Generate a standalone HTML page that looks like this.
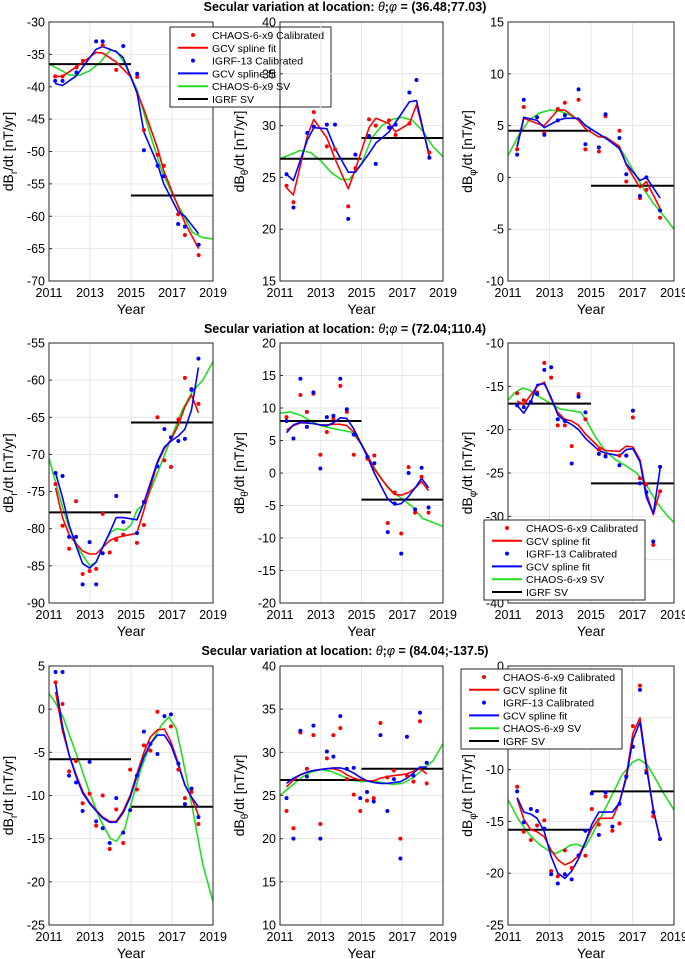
<!DOCTYPE html>
<html><head><meta charset="utf-8"><style>
html,body{margin:0;padding:0;background:#fff;}
svg{display:block;font-family:"Liberation Sans",Arial,sans-serif;}
</style></head><body>
<svg id="fig" width="685" height="959" viewBox="0 0 685 959" xmlns="http://www.w3.org/2000/svg"></svg>
<script>
// ---------- DATA ----------
const rowTitles = ["(36.48;77.03)","(72.04;110.4)","(84.04;-137.5)"];
const yRanges = [[-70,-30],[15,40],[-10,15],[-90,-55],[-20,20],[-40,-10],[-25,5],[10,40],[-25,0]];
const yComps = ["r","θ","φ","r","θ","φ","r","θ","φ"];
const xTickLabels = [2011,2013,2015,2017,2019];
const igrfA = [-36.5,26.8,4.5,-77.8,8.0,-17.0,-5.8,26.8,-15.8];
const igrfB = [-56.8,28.8,-0.8,-65.7,-4.1,-26.2,-11.3,28.1,-12.1];

const p1Red = [[2011.3,-38.4],[2011.66,-38.4],[2012.34,-37],[2012.66,-36],[2013.62,-33.6],[2014.28,-37.4],[2015.3,-38.5],[2015.63,-46.7],[2016.3,-50.5],[2016.6,-52.2],[2017.3,-59.7],[2017.63,-62.9],[2018.3,-66]];
const p1Blue = [[2011.3,-39.1],[2011.66,-39.1],[2012.34,-37.8],[2013.3,-33],[2013.62,-33],[2014.62,-33.7],[2015.3,-38],[2015.63,-49.8],[2016.3,-52.2],[2016.6,-53.8],[2017.3,-61.2],[2017.63,-61.6],[2018.3,-64.4]];
const p1RedFit = [[2011.3,-38.4],[2011.66,-38.4],[2012.3,-37],[2012.66,-36.2],[2013.3,-34.7],[2013.62,-34.8],[2014.28,-36.2],[2015,-38.5],[2015.63,-43.5],[2016.3,-49.5],[2016.6,-53],[2017.3,-58.5],[2017.63,-61],[2018.3,-65]];
const p1BlueFit = [[2011.3,-39.5],[2011.66,-39.8],[2012.34,-38.3],[2013.3,-34.2],[2013.62,-33.8],[2014.28,-34.6],[2014.62,-35.5],[2015.3,-41],[2015.63,-47],[2016.3,-52],[2016.6,-55],[2017.3,-59.3],[2017.63,-60],[2018.3,-62.7]];
const p1Chaos = [[2011,-36.5],[2011.5,-37.3],[2012,-38.2],[2012.5,-38.2],[2013,-37.5],[2013.5,-36.2],[2014,-34.3],[2014.3,-34.5],[2014.7,-36.5],[2015.3,-40.5],[2016,-48],[2016.5,-53],[2017,-56.5],[2017.5,-59.5],[2018,-62.5],[2018.5,-63.3],[2019,-63.5]];

const p2Red = [[2011.32,24.2],[2011.66,22.6],[2012.66,31.3],[2013.3,28],[2013.7,27.7],[2014.35,22.2],[2014.7,25.9],[2015.37,30.6],[2015.7,30],[2016.35,30.5],[2016.67,29.1],[2017.35,30.2],[2018.33,27.4]];
const p2Blue = [[2011.32,25.3],[2011.66,22.1],[2012.34,29.3],[2012.66,29.9],[2013.3,30.1],[2013.7,30.1],[2014.35,21],[2014.7,27.2],[2015.37,29],[2015.7,26.3],[2016.35,29.8],[2016.67,30.1],[2017.35,33.2],[2017.7,34.4],[2018.33,26.9]];
const p2RedFit = [[2011.32,24],[2011.66,23.3],[2012.34,29],[2012.66,30.6],[2013.3,28.8],[2013.7,26.8],[2014.35,23.9],[2014.7,25.8],[2015.37,29.8],[2015.7,30.7],[2016.35,30.2],[2016.67,29.4],[2017.35,30.2],[2017.7,32],[2018.33,27.2]];
const p2BlueFit = [[2011.32,25.3],[2011.66,24.7],[2012.34,28.6],[2012.66,29.8],[2013.3,29.7],[2013.7,27.8],[2014.35,25.5],[2014.7,25.5],[2015.37,27.3],[2015.7,28.3],[2016.35,29.4],[2016.67,30.3],[2017.35,32.3],[2017.7,32.4],[2018.33,27]];
const p2Chaos = [[2011,26.8],[2011.5,27.2],[2012,27.6],[2012.5,27.4],[2013,26.6],[2013.5,25.5],[2014,24.8],[2014.4,24.8],[2015,26.3],[2015.5,28.8],[2016,30],[2016.5,30.6],[2017,30.8],[2017.5,30.5],[2018,29.5],[2018.5,28],[2019,27]];

const p3Red = [[2011.44,2.7],[2011.76,6.8],[2012.75,4.3],[2013.4,6.6],[2013.74,7.2],[2014.4,7.5],[2014.73,2.7],[2015.38,2.5],[2015.7,5.9],[2016.37,4.5],[2016.7,-0.4],[2017.36,-2],[2017.67,-1.2],[2018.33,-3.9]];
const p3Blue = [[2011.44,2.2],[2011.76,7.5],[2012.4,5.8],[2012.75,4.1],[2013.4,5.5],[2013.74,6],[2014.4,8.5],[2014.73,3.2],[2015.38,2.9],[2015.7,6.1],[2016.37,3.8],[2016.7,0.3],[2017.36,-1.8],[2017.67,0],[2018.33,-3.2]];
const p3RedFit = [[2011.44,2.9],[2011.76,5.7],[2012.4,5.2],[2012.75,5],[2013.4,6.5],[2013.74,6.5],[2014.4,5.5],[2014.73,4.7],[2015.38,3.9],[2015.7,3.9],[2016.37,3],[2016.7,1.2],[2017.36,-1],[2017.67,-0.4],[2018.33,-3]];
const p3BlueFit = [[2011.44,3],[2011.76,5.8],[2012.4,5.5],[2012.75,4.8],[2013.4,5.5],[2013.74,5.7],[2014.4,5.7],[2014.73,5],[2015.38,4.2],[2015.7,3.8],[2016.37,2.8],[2016.7,1.3],[2017.36,-0.3],[2017.67,0],[2018.33,-2]];
const p3Chaos = [[2011,2.1],[2011.5,4],[2012,5.5],[2012.5,6.2],[2013,6.5],[2013.5,6.4],[2014,6],[2014.5,5.4],[2015,4.7],[2015.5,4],[2016,3.4],[2016.5,2.5],[2017,0.8],[2017.5,-1],[2018,-2.5],[2018.5,-3.7],[2019,-5]];

const p4Red = [[2011.32,-74],[2011.66,-79.6],[2011.98,-82.7],[2012.32,-76.3],[2012.64,-86.1],[2012.98,-85.7],[2013.3,-85.4],[2013.62,-78],[2013.96,-83.2],[2014.28,-81.5],[2014.62,-80.8],[2015.29,-81.9],[2015.63,-79.5],[2016.29,-65],[2016.63,-70.8],[2016.95,-71.7],[2017.31,-65.3],[2017.63,-59.7],[2017.95,-61.2],[2018.29,-63.2]];
const p4Blue = [[2011.32,-72.5],[2011.66,-72.9],[2011.98,-81.1],[2012.32,-81.1],[2012.64,-87.5],[2012.98,-81.8],[2013.3,-87.5],[2013.62,-83.3],[2014.28,-75.6],[2014.62,-79.1],[2015.29,-80.6],[2015.63,-76.4],[2016.29,-71.6],[2016.63,-66.6],[2016.95,-67.7],[2017.31,-68.2],[2017.63,-67.9],[2017.95,-61.3],[2018.29,-57.1]];
const p4RedFit = [[2011.32,-74.5],[2011.66,-78.5],[2011.98,-80.8],[2012.32,-82],[2012.64,-83],[2012.98,-83.4],[2013.3,-83.4],[2013.62,-82.5],[2013.96,-81.6],[2014.28,-81.2],[2014.62,-81],[2015.29,-80.6],[2015.63,-77.5],[2016.29,-71.2],[2016.63,-69.2],[2016.95,-68],[2017.31,-66],[2017.63,-63.6],[2017.95,-62],[2018.29,-64.4]];
const p4BlueFit = [[2011.32,-72.5],[2011.66,-75.8],[2011.98,-79.5],[2012.32,-82.3],[2012.64,-84.7],[2012.98,-85.3],[2013.3,-84.5],[2013.62,-82.5],[2013.96,-80.5],[2014.28,-78.5],[2014.62,-78.5],[2015.29,-78.8],[2015.63,-76.5],[2016.29,-71],[2016.63,-69],[2016.95,-68.2],[2017.31,-67.5],[2017.63,-66.6],[2017.95,-64],[2018.29,-58.3]];
const p4Chaos = [[2011,-70.5],[2011.3,-73.5],[2011.7,-77.5],[2012,-80],[2012.5,-83],[2013,-85],[2013.3,-84.5],[2013.7,-82],[2014,-80.5],[2014.3,-80],[2014.7,-80.2],[2015,-79.5],[2015.3,-77.5],[2015.7,-76.5],[2016,-74.5],[2016.5,-71],[2017,-67.5],[2017.5,-64],[2018,-61.5],[2018.5,-60],[2019,-57.5]];

const p5Red = [[2011.32,8.6],[2012,12],[2012.32,9.4],[2012.64,12.2],[2012.98,2.8],[2013.3,6.3],[2013.62,8.4],[2013.96,13.4],[2014.28,9.4],[2014.62,2.8],[2015.29,2.2],[2015.63,2.7],[2016.29,-7.7],[2016.63,-3],[2016.95,-9.3],[2017.31,0.9],[2017.63,-6.1],[2017.95,-0.6],[2018.29,-6.1]];
const p5Blue = [[2011.32,8],[2011.66,5.3],[2012,14.5],[2012.32,7.1],[2012.64,12.4],[2012.98,0.7],[2013.3,8.6],[2013.62,8.8],[2013.96,14.5],[2014.28,9.8],[2014.62,5.9],[2015.29,2.5],[2015.63,1.5],[2016.29,-9.1],[2016.63,-4.7],[2016.95,-12.4],[2017.31,0],[2017.63,-5.6],[2017.95,0.8],[2018.29,-5.3]];
const p5RedFit = [[2011.32,6.6],[2011.66,7.3],[2012,7.7],[2012.32,7.7],[2012.64,7.6],[2012.98,7.4],[2013.3,7.4],[2013.62,7.5],[2013.96,7.5],[2014.28,7.3],[2014.62,6.3],[2015.29,2.8],[2015.63,0.6],[2016.29,-2.2],[2016.63,-3.3],[2016.95,-3.4],[2017.31,-3],[2017.63,-2.3],[2017.95,-1.3],[2018.29,-2.7]];
const p5BlueFit = [[2011.32,6.2],[2011.66,7.4],[2012,7.8],[2012.32,7.7],[2012.64,7.6],[2012.98,7.4],[2013.3,7.3],[2013.62,7.7],[2013.96,8.5],[2014.28,8.4],[2014.62,6.8],[2015.29,2.5],[2015.63,0],[2016.29,-4],[2016.63,-4.9],[2016.95,-4.7],[2017.31,-3.6],[2017.63,-2.3],[2017.95,-0.8],[2018.29,-2.3]];
const p5Chaos = [[2011,9.2],[2011.5,9.4],[2012,8.9],[2012.5,8],[2013,7.3],[2013.5,6.9],[2014,6.6],[2014.5,6.3],[2015,4.5],[2015.5,1.5],[2016,-1],[2016.5,-2.8],[2017,-4],[2017.5,-5.2],[2018,-7],[2018.5,-7.6],[2019,-8.2]];

const p6Red = [[2011.44,-15.8],[2011.76,-16.6],[2012.4,-15.7],[2012.75,-12.3],[2013.08,-14],[2013.4,-19.5],[2013.74,-19.5],[2014.07,-21.9],[2014.4,-15.9],[2014.73,-18.8],[2015.38,-22.3],[2015.7,-23],[2016.37,-23],[2016.7,-23],[2017.02,-18.6],[2017.36,-25.6],[2017.67,-26.3],[2018,-33.3],[2018.33,-27.1]];
const p6Blue = [[2011.44,-17.2],[2011.76,-17.4],[2012.1,-16.8],[2012.4,-15.9],[2012.75,-13.1],[2013.08,-12.8],[2013.4,-18.8],[2013.74,-19],[2014.07,-23.9],[2014.4,-16.2],[2014.73,-18],[2015.38,-22.8],[2015.7,-23.1],[2016.37,-24.1],[2016.7,-23],[2017.02,-17.8],[2017.36,-26.2],[2017.67,-27.2],[2018,-32.9],[2018.33,-24.3]];
const p6RedFit = [[2011.44,-16.7],[2011.76,-17.1],[2012.1,-16],[2012.4,-15],[2012.75,-14.5],[2013.08,-16.5],[2013.4,-18],[2013.74,-18.8],[2014.07,-19],[2014.4,-19.5],[2014.73,-20.5],[2015.38,-22],[2015.7,-22.4],[2016.37,-22.5],[2016.7,-21.9],[2017.02,-22],[2017.36,-23.5],[2017.67,-27.3],[2018,-29.8],[2018.33,-27]];
const p6BlueFit = [[2011.44,-17.2],[2011.76,-18.1],[2012.1,-16.8],[2012.4,-14.8],[2012.75,-14.7],[2013.08,-16.3],[2013.4,-18.3],[2013.74,-19],[2014.07,-19.4],[2014.4,-20],[2014.73,-21],[2015.38,-22.4],[2015.7,-22.7],[2016.37,-23],[2016.7,-22.3],[2017.02,-22.2],[2017.36,-23.7],[2017.67,-27.8],[2018,-29.7],[2018.33,-24.5]];
const p6Chaos = [[2011,-16.6],[2011.3,-15.8],[2011.7,-15.2],[2012,-15.4],[2012.5,-16.2],[2013,-16.9],[2013.5,-17.6],[2014,-17.8],[2014.5,-18],[2014.8,-19],[2015.2,-20.8],[2015.7,-22.5],[2016.2,-23.5],[2016.7,-24.2],[2017.2,-25],[2017.7,-26.5],[2018.2,-28.5],[2018.7,-30],[2019,-30.7]];

const p7Red = [[2011.32,3.1],[2011.66,0.6],[2011.98,-7.2],[2012.32,-6],[2012.64,-10.9],[2012.98,-9.8],[2013.3,-13.5],[2013.62,-10],[2013.96,-16.2],[2014.28,-11.6],[2014.62,-15.5],[2014.96,-7],[2015.29,-9.3],[2015.63,-4.2],[2015.95,-4.8],[2016.29,-0.3],[2016.95,-2],[2017.31,-7],[2017.63,-10.3],[2017.95,-9.6],[2018.29,-13.3]];
const p7Blue = [[2011.32,4.3],[2011.66,4.3],[2011.98,-7.7],[2012.32,-8.5],[2012.64,-11.8],[2012.98,-6.1],[2013.3,-13],[2013.62,-13.8],[2013.96,-15.5],[2014.28,-10.3],[2014.62,-14.3],[2014.96,-11.7],[2015.29,-7.7],[2015.63,-2.6],[2015.95,-4],[2016.29,-5.2],[2016.63,-0.8],[2016.95,-0.6],[2017.31,-6.3],[2017.63,-11],[2017.95,-9.2],[2018.29,-12.5]];
const p7RedFit = [[2011.32,2],[2011.66,-2.5],[2011.98,-5.3],[2012.32,-7.6],[2012.64,-9.5],[2012.98,-10.8],[2013.3,-11.7],[2013.62,-12.5],[2013.96,-13],[2014.28,-13],[2014.62,-11.8],[2014.96,-10],[2015.29,-7.5],[2015.63,-5],[2015.95,-3.2],[2016.29,-2.4],[2016.63,-2.3],[2016.95,-3.8],[2017.31,-6.3],[2017.63,-8.8],[2017.95,-10.2],[2018.29,-12.3]];
const p7BlueFit = [[2011.32,3],[2011.66,-2],[2011.98,-5.3],[2012.32,-7.8],[2012.64,-9.7],[2012.98,-10.9],[2013.3,-11.8],[2013.62,-12.6],[2013.96,-13.1],[2014.28,-13.1],[2014.62,-12],[2014.96,-10.2],[2015.29,-7.8],[2015.63,-5.5],[2015.95,-4],[2016.29,-3],[2016.63,-3],[2016.95,-4.2],[2017.31,-6.5],[2017.63,-8.8],[2017.95,-10.2],[2018.29,-11.3]];
const p7Chaos = [[2011,1.8],[2011.3,0.8],[2011.7,-1],[2012,-3],[2012.5,-6.3],[2013,-9.8],[2013.5,-12.8],[2014,-15],[2014.3,-15.3],[2014.7,-13.8],[2015,-11],[2015.5,-6.8],[2016,-3.8],[2016.5,-1.8],[2016.85,-0.9],[2017.2,-2.2],[2017.5,-5.5],[2018,-11.5],[2018.5,-18],[2019,-22.3]];

const p8Red = [[2011.32,23.2],[2011.66,21.2],[2012,32.3],[2012.32,28.1],[2012.64,32],[2012.98,21.7],[2013.3,29.3],[2013.62,32],[2013.96,32.8],[2014.28,26.9],[2014.62,25.1],[2014.94,23.2],[2015.27,24.4],[2015.6,24.7],[2015.93,33.4],[2016.27,27.1],[2016.59,27.9],[2016.91,20],[2017.23,27.3],[2017.55,26.6],[2017.87,33.6],[2018.2,26.4]];
const p8Blue = [[2011.32,24.7],[2011.66,20],[2012,32.5],[2012.32,27.2],[2012.64,33.1],[2012.98,20],[2013.3,30.1],[2013.62,29.5],[2013.96,34.2],[2014.28,28.1],[2014.62,28.2],[2014.94,24.7],[2015.27,25.4],[2015.6,24.3],[2015.93,32],[2016.27,23.2],[2016.59,26.9],[2016.91,17.7],[2017.23,31.8],[2017.55,27.3],[2017.87,34.6],[2018.2,28.8]];
const p8RedFit = [[2011.32,26],[2011.66,26.8],[2012,27.4],[2012.32,27.7],[2012.64,27.9],[2012.98,28],[2013.3,28.1],[2013.62,28.1],[2013.96,27.9],[2014.28,27.4],[2014.62,27],[2014.94,26.8],[2015.27,26.7],[2015.6,26.7],[2015.93,27],[2016.27,27.2],[2016.59,27.3],[2016.91,27.4],[2017.23,27.5],[2017.55,27.8],[2017.87,28.1],[2018.2,27.5]];
const p8BlueFit = [[2011.32,26.4],[2011.66,27],[2012,27.4],[2012.32,27.7],[2012.64,27.9],[2012.98,28],[2013.3,28.1],[2013.62,28.2],[2013.96,28.2],[2014.28,28],[2014.62,27.6],[2014.94,27.1],[2015.27,26.7],[2015.6,26.5],[2015.93,26.4],[2016.27,26.4],[2016.59,26.5],[2016.91,26.6],[2017.23,27],[2017.55,27.6],[2017.87,28.3],[2018.2,28.3]];
const p8Chaos = [[2011,25],[2011.5,26],[2012,27],[2012.5,27.7],[2013,28],[2013.5,27.8],[2014,27.3],[2014.5,26.8],[2015,26.6],[2015.5,26.7],[2016,26.5],[2016.5,26.3],[2017,26.4],[2017.5,27],[2018,28],[2018.5,29],[2019,31]];

const p9Red = [[2011.44,-11.65],[2011.76,-16],[2012.1,-16.8],[2012.4,-15.4],[2012.75,-14.9],[2013.08,-19.8],[2013.4,-20.3],[2013.74,-17.8],[2014.07,-19.5],[2014.4,-18.3],[2014.73,-18.3],[2015.04,-13.8],[2015.38,-15.3],[2015.7,-12.6],[2016.03,-15.9],[2016.37,-15.2],[2016.7,-10.6],[2017.02,-5.8],[2017.36,-1.9],[2017.67,-10.1],[2018,-14.5],[2018.33,-16.7]];
const p9Blue = [[2011.44,-12.1],[2011.76,-15.1],[2012.1,-13.8],[2012.4,-14],[2012.75,-15.7],[2013.08,-20.1],[2013.4,-21],[2013.74,-20.1],[2014.07,-20.6],[2014.4,-18.3],[2014.73,-15.9],[2015.04,-12.3],[2015.38,-16.3],[2015.7,-12.2],[2016.03,-15.5],[2016.37,-13.3],[2016.7,-10.7],[2017.02,-7.8],[2017.36,-2.3],[2017.67,-10.3],[2018,-14.1],[2018.33,-16.7]];
const p9RedFit = [[2011.44,-12.8],[2011.76,-14.8],[2012.1,-15.8],[2012.4,-16],[2012.75,-16.5],[2013.08,-17.8],[2013.4,-18.7],[2013.74,-19.2],[2014.07,-18.9],[2014.4,-18.3],[2014.73,-17],[2015.04,-15.7],[2015.38,-14.7],[2015.7,-14.7],[2016.03,-14.7],[2016.37,-13.2],[2016.7,-10.6],[2017.02,-6.5],[2017.36,-5],[2017.67,-9.5],[2018,-14],[2018.33,-16.6]];
const p9BlueFit = [[2011.44,-12.7],[2011.76,-14.1],[2012.1,-14.3],[2012.4,-14.7],[2012.75,-16],[2013.08,-18.4],[2013.4,-20],[2013.74,-20.5],[2014.07,-19.8],[2014.4,-18.6],[2014.73,-17],[2015.04,-15.3],[2015.38,-14.1],[2015.7,-14.1],[2016.03,-14.1],[2016.37,-13.2],[2016.7,-10.8],[2017.02,-7.1],[2017.36,-5.4],[2017.67,-9.8],[2018,-13.8],[2018.33,-16.8]];
const p9Chaos = [[2011,-12.9],[2011.5,-14.8],[2012,-16.2],[2012.5,-17.2],[2013,-17.9],[2013.3,-18.1],[2013.7,-17.7],[2014,-17.3],[2014.3,-17.2],[2014.7,-17.5],[2015,-16.5],[2015.5,-14.5],[2016,-12.5],[2016.5,-10.5],[2017,-9.3],[2017.3,-9],[2017.7,-9.5],[2018,-10.5],[2018.5,-12.3],[2019,-13.9]];

const redDots=[p1Red,p2Red,p3Red,p4Red,p5Red,p6Red,p7Red,p8Red,p9Red];
const blueDots=[p1Blue,p2Blue,p3Blue,p4Blue,p5Blue,p6Blue,p7Blue,p8Blue,p9Blue];
const redFits=[p1RedFit,p2RedFit,p3RedFit,p4RedFit,p5RedFit,p6RedFit,p7RedFit,p8RedFit,p9RedFit];
const blueFits=[p1BlueFit,p2BlueFit,p3BlueFit,p4BlueFit,p5BlueFit,p6BlueFit,p7BlueFit,p8BlueFit,p9BlueFit];
const chaosSV=[p1Chaos,p2Chaos,p3Chaos,p4Chaos,p5Chaos,p6Chaos,p7Chaos,p8Chaos,p9Chaos];

// ---------- LAYOUT ----------
const colX=[[49,213],[280,443],[508,674]];
const rowY=[[22,281],[343,603],[666,925]];
const titleY=[11,333,655];
const legendPos=[[170,27],null,null,null,null,[484,520],null,null,[461,669]];

const NS="http://www.w3.org/2000/svg";
const svg=document.getElementById('fig');
function mk(tag,attrs,parent){const e=document.createElementNS(NS,tag);for(const k in attrs)e.setAttribute(k,attrs[k]);(parent||svg).appendChild(e);return e;}

for(let r=0;r<3;r++){
  const t=mk('text',{x:345,y:titleY[r],'text-anchor':'middle','font-size':'12.5','font-weight':'bold'});
  
  
  t.innerHTML='Secular variation at location: <tspan font-style="italic" font-weight="normal">θ</tspan>;<tspan font-style="italic" font-weight="normal">φ</tspan> = '+rowTitles[r];
}

for(let i=0;i<9;i++){
  const r=Math.floor(i/3),c=i%3;
  const L=colX[c][0],R=colX[c][1],T=rowY[r][0],B=rowY[r][1];
  const [y0,y1]=yRanges[i];
  const sx=v=>L+(v-2011)/8*(R-L);
  const sy=v=>B-(v-y0)/(y1-y0)*(B-T);
  const g=mk('g',{});
  
  
  const clipId='clip'+i;
  const cp=mk('clipPath',{id:clipId},g);mk('rect',{x:L,y:T,width:R-L,height:B-T},cp);
  // grid
  for(let v=y0;v<=y1;v+=5){
    const yy=sy(v);
    mk('line',{x1:L,x2:R,y1:yy,y2:yy,stroke:'#e6e6e6','stroke-width':1},g);
    const tl=mk('text',{x:L-4,y:yy+4.5,'text-anchor':'end','font-size':'12.5'},g);
    
    
    tl.textContent=String(v);
    mk('line',{x1:L,x2:L+3,y1:yy,y2:yy,stroke:'#333'},g);
  }
  xTickLabels.forEach(yr=>{
    const xx=sx(yr);
    mk('line',{x1:xx,x2:xx,y1:T,y2:B,stroke:'#e6e6e6','stroke-width':1},g);
    const tl=mk('text',{x:xx,y:B+16,'text-anchor':'middle','font-size':'12.5'},g);
    
    
    tl.textContent=String(yr);
  });
  const xt=mk('text',{x:(L+R)/2,y:B+33,'text-anchor':'middle','font-size':'14'},g);
  
  
  xt.textContent='Year';
  const ylx=L-36, yly=(T+B)/2;
  const yt=mk('text',{x:ylx,y:yly,'text-anchor':'middle','font-size':'14',transform:'rotate(-90 '+ylx+' '+yly+')'},g);
  
  
  yt.innerHTML='dB<tspan font-size="10" dy="4">'+yComps[i]+'</tspan><tspan dy="-4">/dt [nT/yr]</tspan>';
  const pg=mk('g',{'clip-path':'url(#'+clipId+')'},g);
  const poly=(pts,col,w,name)=>{const p=mk('polyline',{points:pts.map(d=>sx(d[0]).toFixed(1)+','+sy(d[1]).toFixed(1)).join(' '),fill:'none',stroke:col,'stroke-width':w,'stroke-linejoin':'round'},pg);
    
    };
  poly(chaosSV[i],'#22dd22',1.6,'chaos-sv-line');
  const ia=mk('line',{x1:sx(2011),x2:sx(2015),y1:sy(igrfA[i]),y2:sy(igrfA[i]),stroke:'#000','stroke-width':2},pg);
  
  
  const ib=mk('line',{x1:sx(2015),x2:sx(2019),y1:sy(igrfB[i]),y2:sy(igrfB[i]),stroke:'#000','stroke-width':2},pg);
  
  
  poly(redFits[i],'#ff0000',1.6,'chaos-gcv-fit');
  poly(blueFits[i],'#0000ff',1.6,'igrf-gcv-fit');
  redDots[i].forEach(d=>{const c2=mk('circle',{cx:sx(d[0]),cy:sy(d[1]),r:2,fill:'#ff0000'},pg);
    
    });
  blueDots[i].forEach(d=>{const c2=mk('circle',{cx:sx(d[0]),cy:sy(d[1]),r:2,fill:'#0000ff'},pg);
    
    });
  const fr=mk('rect',{x:L,y:T,width:R-L,height:B-T,fill:'none',stroke:'#262626','stroke-width':1},g);
  
  
  if(legendPos[i]){
    const [lx,ly]=legendPos[i];
    const lg=mk('g',{});
    
    
    mk('rect',{x:lx,y:ly,width:161,height:80,fill:'#fff',stroke:'#262626','stroke-width':1},lg);
    const items=[['dot','#ff0000','CHAOS-6-x9 Calibrated'],['line','#ff0000','GCV spline fit'],['dot','#0000ff','IGRF-13 Calibrated'],['line','#0000ff','GCV spline fit'],['line','#22dd22','CHAOS-6-x9 SV'],['line','#000','IGRF SV']];
    items.forEach((it,k)=>{
      const yy=ly+8+k*12.8;
      if(it[0]==='dot')mk('circle',{cx:lx+23,cy:yy,r:2,fill:it[1]},lg);
      else mk('line',{x1:lx+8,x2:lx+38,y1:yy,y2:yy,stroke:it[1],'stroke-width':2},lg);
      const tx=mk('text',{x:lx+42,y:yy+4,'font-size':'10.5'},lg);
      
      
      tx.textContent=it[2];
    });
  }
}
</script>
</body></html>
